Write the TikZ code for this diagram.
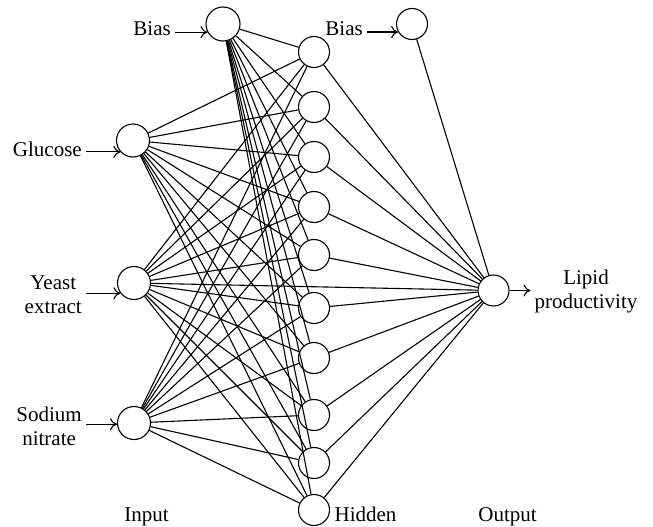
\documentclass[tikz,border=0pt]{standalone}
\usepackage{fontspec}
\setmainfont{Liberation Serif}
\usetikzlibrary{arrows.meta}
\begin{document}
\begin{tikzpicture}[x=1pt,y=-1pt,
  every node/.style={font=\rmfamily\fontsize{21}{24}\selectfont},
  neuron/.style={circle,draw,line width=1.1pt,minimum size=#1,inner sep=0pt},
  neuron/.default=31pt,
  lab/.style={inner xsep=4pt,inner ysep=0pt,align=center},
  conn/.style={line width=1.1pt},
  arr/.style={line width=1.1pt,-{Computer Modern Rightarrow[length=7pt,width=12pt,line width=1.1pt]}}]
\useasboundingbox (0,0) rectangle (653,527);
% nodes
\node[neuron=34pt] (b1) at (223,24) {};
\node[neuron=31pt] (b2) at (412,24) {};
\node[neuron=33pt] (i1) at (133,140.5) {};
\node[neuron=33pt] (i2) at (134,283) {};
\node[neuron=33pt] (i3) at (134,423) {};
\foreach \k/\y in {1/52,2/107,3/157,4/207,5/255,6/308,7/358,8/415,9/463,10/510}
  \node[neuron] (h\k) at (314,\y) {};
\node[neuron] (out) at (493.5,290.5) {};
% connections
\foreach \k in {1,...,10}{
  \draw[conn] (b1) -- (h\k);
  \draw[conn] (i1) -- (h\k);
  \draw[conn] (i2) -- (h\k);
  \draw[conn] (i3) -- (h\k);
  \draw[conn] (h\k) -- (out);
}
\draw[conn] (b2) -- (out);
\draw[conn] (i2) -- (out);
% labels
\node[lab,anchor=base east] (lb1) at (175,36) {Bias};
\node[lab,anchor=base east] (lb2) at (367,36) {Bias};
\node[lab,anchor=base east] (lg) at (86,156) {Glucose};
\node[lab,anchor=base east] (ly) at (86,313) {Yeast\\extract};
\node[lab,anchor=base east] (ls) at (86,445) {Sodium\\nitrate};
\node[lab,anchor=base] (lo) at (586,308) {Lipid\\productivity};
\draw[arr] (lb1.east |- b1.208) -- (b1.208);
\draw[arr] (lb2.east |- b2.210) -- (b2.210);
\draw[arr] (lg.east |- i1.222) -- (i1.222);
\draw[arr] (ly.east |- i2.217) -- (i2.217);
\draw[arr] (ls.east |- i3.184) -- (i3.184);
\draw[arr] (out.east) -- (out.east -| lo.west);
\node[anchor=base] (tin) at (146.5,521) {Input};
\node[anchor=base] (thid) at (365.5,521) {Hidden};
\node[anchor=base] (tout) at (507.5,521) {Output};
\end{tikzpicture}
\end{document}
